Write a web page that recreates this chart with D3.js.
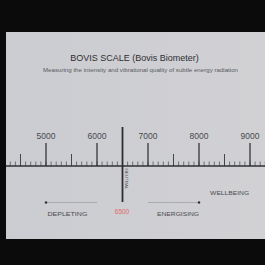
<!DOCTYPE html>
<html>
<head>
<meta charset="utf-8">
<script src="https://cdn.jsdelivr.net/npm/d3@7"></script>
<style>
  html, body { margin: 0; padding: 0; background: #0b0b0b; }
  svg { display: block; }
</style>
</head>
<body>
<svg id="chart" width="265" height="265"></svg>
<script>
const title = 'BOVIS SCALE (Bovis Biometer)';
const subtitle = 'Measuring the intensity and vibrational quality of subtle energy radiation';
const majorTicks = [5000, 6000, 7000, 8000, 9000];
const halfTicks = [4500, 5500, 6500, 7500, 8500];
const minorTicks = d3.range(4300, 9500, 100);
const neutralValue = 6500;
const depletingRange = [5000, 6000];
const energisingRange = [7000, 8000];
const depletingLabelAt = 5420;
const energisingLabelAt = 7590;
const wellbeingLabelAt = 8600;

const width = 265;
const height = 265;

const x = d3.scaleLinear()
  .domain([5000, 9000])
  .range([46, 250]);

const svg = d3.select('#chart')
  .attr('font-family', 'Liberation Sans, Arial, sans-serif');

svg.append('rect')
  .attr('width', width)
  .attr('height', height)
  .attr('fill', '#0b0b0b');

const grad = svg.append('defs').append('linearGradient')
  .attr('id', 'panel')
  .attr('x1', 0).attr('x2', 1).attr('y1', 0).attr('y2', 0);
grad.append('stop').attr('offset', 0).attr('stop-color', '#cbccd1');
grad.append('stop').attr('offset', 1).attr('stop-color', '#d1d1d4');

svg.append('rect')
  .attr('x', 6)
  .attr('y', 32)
  .attr('width', width - 6)
  .attr('height', 207)
  .attr('fill', 'url(#panel)');

svg.append('text')
  .attr('x', 134.5)
  .attr('y', 61)
  .attr('text-anchor', 'middle')
  .attr('font-size', 9)
  .attr('fill', '#2e2e33')
  .text(title);

svg.append('text')
  .attr('x', 43)
  .attr('y', 71.5)
  .attr('font-size', 4.6)
  .attr('textLength', 195)
  .attr('lengthAdjust', 'spacingAndGlyphs')
  .attr('fill', '#5a5b60')
  .text(subtitle);

const axisY = 166;

// minor ticks
svg.append('g')
  .selectAll('line')
  .data(minorTicks)
  .join('line')
  .attr('x1', d => x(d))
  .attr('x2', d => x(d))
  .attr('y1', axisY - 4.5)
  .attr('y2', axisY)
  .attr('stroke', '#55575c')
  .attr('stroke-width', 0.8);

svg.append('g')
  .selectAll('line')
  .data(halfTicks)
  .join('line')
  .attr('x1', d => x(d))
  .attr('x2', d => x(d))
  .attr('y1', axisY - 12)
  .attr('y2', axisY)
  .attr('stroke', '#44464b')
  .attr('stroke-width', 1);

svg.append('g')
  .selectAll('line')
  .data(majorTicks)
  .join('line')
  .attr('x1', d => x(d))
  .attr('x2', d => x(d))
  .attr('y1', axisY - 23)
  .attr('y2', axisY)
  .attr('stroke', '#35373c')
  .attr('stroke-width', 1.3);

svg.append('g')
  .selectAll('text')
  .data(majorTicks)
  .join('text')
  .attr('x', d => x(d))
  .attr('y', 138.5)
  .attr('text-anchor', 'middle')
  .attr('font-size', 8.5)
  .attr('fill', '#47484d')
  .text(d => d);

svg.append('line')
  .attr('x1', 6)
  .attr('x2', width)
  .attr('y1', axisY)
  .attr('y2', axisY)
  .attr('stroke', '#2f3035')
  .attr('stroke-width', 1.4);

// neutral line
svg.append('line')
  .attr('x1', x(neutralValue))
  .attr('x2', x(neutralValue))
  .attr('y1', 127)
  .attr('y2', 202)
  .attr('stroke', '#2c2d31')
  .attr('stroke-width', 1.8);

svg.append('text')
  .attr('transform', `translate(${x(neutralValue) + 3.5},179) rotate(90)`)
  .attr('text-anchor', 'middle')
  .attr('dy', '0.35em')
  .attr('font-size', 4.2)
  .attr('textLength', 21)
  .attr('lengthAdjust', 'spacingAndGlyphs')
  .attr('fill', '#55565b')
  .text('NEUTRAL');

svg.append('text')
  .attr('x', x(neutralValue) - 0.5)
  .attr('y', 213.5)
  .attr('text-anchor', 'middle')
  .attr('font-size', 6.5)
  .attr('fill', '#e06a66')
  .text(neutralValue);

// direction arrows
const arrowY = 202.5;
[[depletingRange, depletingRange[0], depletingLabelAt, 'DEPLETING', 40],
 [energisingRange, energisingRange[1], energisingLabelAt, 'ENERGISING', 42]]
  .forEach(([range, dotAt, labelAt, label, len]) => {
    svg.append('line')
      .attr('x1', x(range[0]))
      .attr('x2', x(range[1]))
      .attr('y1', arrowY)
      .attr('y2', arrowY)
      .attr('stroke', '#9a9ba0')
      .attr('stroke-width', 0.7);
    svg.append('circle')
      .attr('cx', x(dotAt))
      .attr('cy', arrowY)
      .attr('r', 1.2)
      .attr('fill', '#2e2f33');
    svg.append('text')
      .attr('x', x(labelAt))
      .attr('y', 215.5)
      .attr('text-anchor', 'middle')
      .attr('font-size', 6)
      .attr('textLength', len)
      .attr('lengthAdjust', 'spacingAndGlyphs')
      .attr('fill', '#4a4b50')
      .text(label);
  });

svg.append('text')
  .attr('x', x(wellbeingLabelAt))
  .attr('y', 194.5)
  .attr('text-anchor', 'middle')
  .attr('font-size', 6)
  .attr('textLength', 39)
  .attr('lengthAdjust', 'spacingAndGlyphs')
  .attr('fill', '#4a4b50')
  .text('WELLBEING');
</script>
</body>
</html>
